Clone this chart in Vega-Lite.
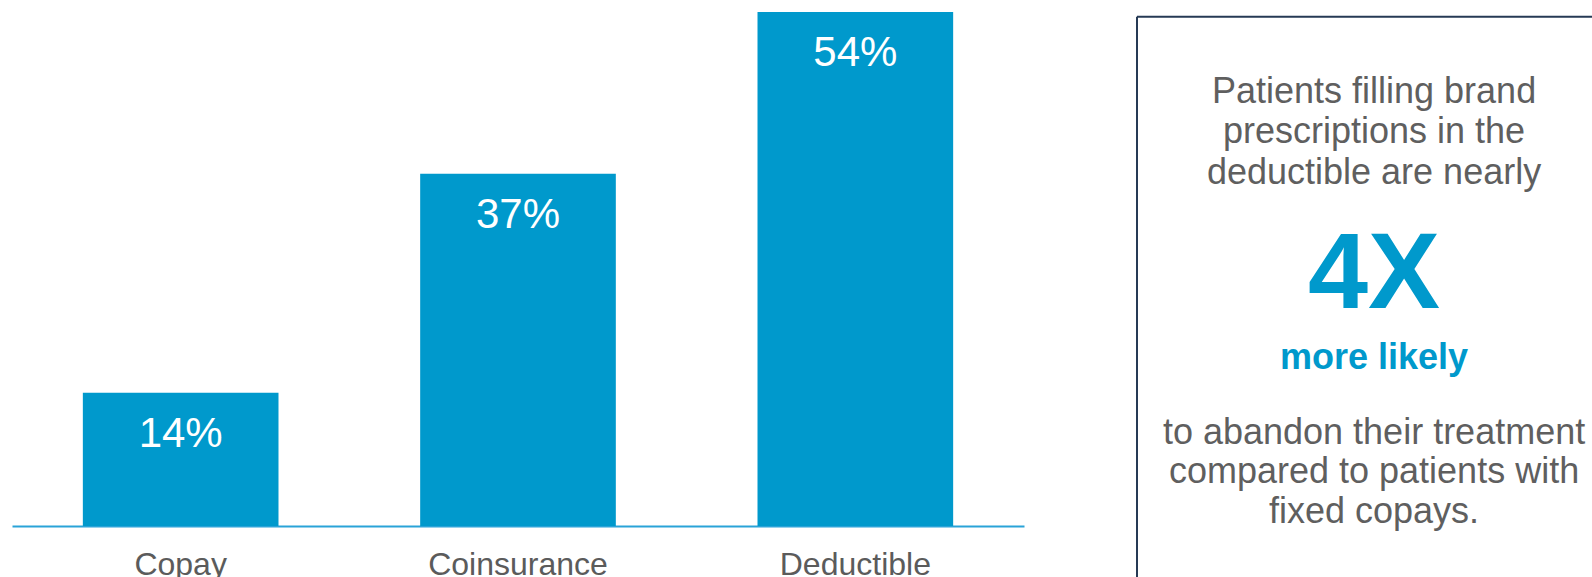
{
  "$schema": "https://vega.github.io/schema/vega-lite/v6.json",
  "padding": {"left": 12, "top": 12, "right": 0, "bottom": 0},
  "background": "white",
  "bounds": "flush",
  "spacing": 113,
  "config": {"view": {"stroke": null}, "font": "Liberation Sans"},
  "datasets": {
    "bars": [
      {"plan": "Copay", "share": 0.14},
      {"plan": "Coinsurance", "share": 0.37},
      {"plan": "Deductible", "share": 0.54}
    ],
    "box": [
      {"side": "left", "x": 0, "x2": 0, "y": 0.85, "y2": 100},
      {"side": "top", "x": 0, "x2": 1, "y": 0.85, "y2": 0.85}
    ],
    "notes": [
      {"kind": "body", "text": "Patients filling brand", "pos": 16.1},
      {"kind": "body", "text": "prescriptions in the", "pos": 23.25},
      {"kind": "body", "text": "deductible are nearly", "pos": 30.4},
      {"kind": "big", "text": "4X", "pos": 52.4},
      {"kind": "emph", "text": "more likely", "pos": 63.2},
      {"kind": "body", "text": "to abandon their treatment", "pos": 76.4},
      {"kind": "body", "text": "compared to patients with", "pos": 83.45},
      {"kind": "body", "text": "fixed copays.", "pos": 90.5}
    ]
  },
  "hconcat": [
    {
      "width": 1012,
      "height": 514,
      "data": {"name": "bars"},
      "encoding": {
        "x": {
          "field": "plan",
          "type": "nominal",
          "sort": null,
          "scale": {"paddingInner": 0.42, "paddingOuter": 0.21},
          "axis": {
            "title": null,
            "ticks": false,
            "domainColor": "#2aa3d8",
            "domainWidth": 2,
            "labelFontSize": 32,
            "labelColor": "#5b5b5b",
            "labelPadding": 23,
            "labelAngle": 0
          }
        },
        "y": {
          "field": "share",
          "type": "quantitative",
          "scale": {"domain": [0, 0.54], "nice": false},
          "axis": null
        }
      },
      "layer": [
        {"mark": {"type": "bar", "color": "#0099cc"}},
        {
          "mark": {"type": "text", "color": "white", "fontSize": 42, "baseline": "alphabetic", "align": "center", "dy": 54},
          "encoding": {"text": {"field": "share", "type": "quantitative", "format": ".0%"}}
        }
      ]
    },
    {
      "width": 455,
      "height": 565,
      "layer": [
        {
          "data": {"name": "box"},
          "mark": {"type": "rule", "color": "#263a55", "strokeWidth": 2},
          "encoding": {
            "x": {"field": "x", "type": "quantitative", "scale": {"domain": [0, 1]}, "axis": null},
            "x2": {"field": "x2"},
            "y": {"field": "y", "type": "quantitative", "scale": {"domain": [0, 100], "reverse": true}, "axis": null},
            "y2": {"field": "y2"}
          }
        },
        {
          "data": {"name": "notes"},
          "transform": [{"filter": "datum.kind === 'body'"}],
          "mark": {"type": "text", "fontSize": 36, "color": "#5f5f5f", "align": "center", "baseline": "alphabetic"},
          "encoding": {
            "x": {"datum": 0.521, "type": "quantitative"},
            "y": {"field": "pos", "type": "quantitative"},
            "text": {"field": "text"}
          }
        },
        {
          "data": {"name": "notes"},
          "transform": [{"filter": "datum.kind === 'big'"}],
          "mark": {"type": "text", "fontSize": 108, "fontWeight": "bold", "color": "#0099cc", "align": "center", "baseline": "alphabetic"},
          "encoding": {
            "x": {"datum": 0.521, "type": "quantitative"},
            "y": {"field": "pos", "type": "quantitative"},
            "text": {"field": "text"}
          }
        },
        {
          "data": {"name": "notes"},
          "transform": [{"filter": "datum.kind === 'emph'"}],
          "mark": {"type": "text", "fontSize": 36, "fontWeight": "bold", "color": "#0099cc", "align": "center", "baseline": "alphabetic"},
          "encoding": {
            "x": {"datum": 0.521, "type": "quantitative"},
            "y": {"field": "pos", "type": "quantitative"},
            "text": {"field": "text"}
          }
        }
      ]
    }
  ]
}
